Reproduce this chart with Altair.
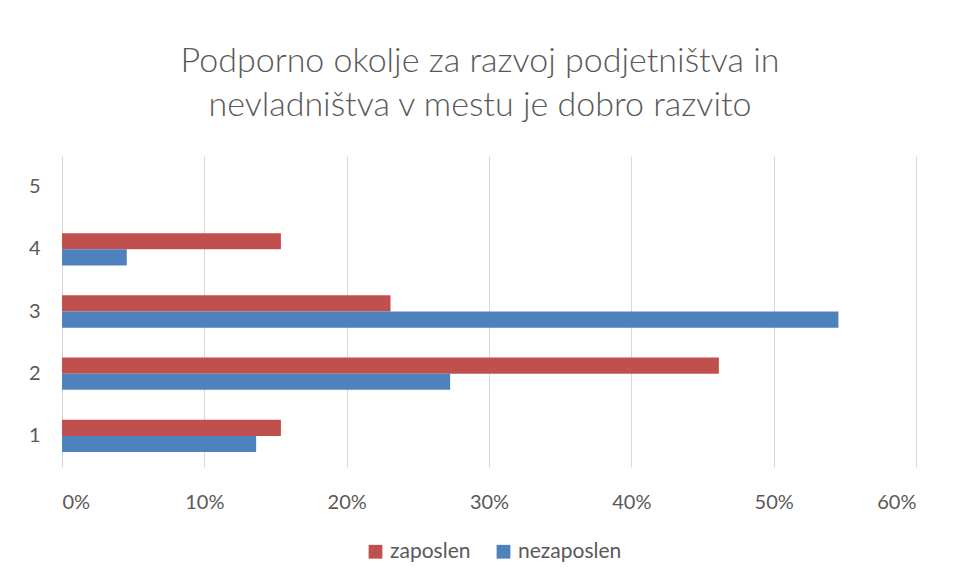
import altair as alt
import pandas as pd

categories = ["1", "2", "3", "4", "5"]
series = ["zaposlen", "nezaposlen"]
zaposlen = [0.1538, 0.4615, 0.2308, 0.1538, None]
nezaposlen = [0.1364, 0.2727, 0.5455, 0.0455, None]
colors = ["#C0504D", "#4F81BD"]

rows = []
for c, z, n in zip(categories, zaposlen, nezaposlen):
    if z is not None:
        rows.append({"kat": c, "serija": "zaposlen", "vrednost": z})
    if n is not None:
        rows.append({"kat": c, "serija": "nezaposlen", "vrednost": n})
df = pd.DataFrame(rows)

FONT = "Lato"
GREY = "#595959"

chart = alt.Chart(df).mark_bar().encode(
    x=alt.X("vrednost:Q",
            scale=alt.Scale(domain=[0, 0.6], nice=False),
            axis=alt.Axis(format="%", values=[0, 0.1, 0.2, 0.3, 0.4, 0.5, 0.6],
                          title=None, domain=False, ticks=False,
                          labelPadding=25, labelFontSize=20, labelColor=GREY,
                          labelFont=FONT, gridColor="#D9D9D9", gridWidth=1)),
    y=alt.Y("kat:N",
            scale=alt.Scale(domain=categories[::-1], paddingInner=0.48, paddingOuter=0.24),
            axis=alt.Axis(title=None, domain=False, ticks=False, grid=False,
                          labelPadding=22, labelFontSize=20, labelColor=GREY,
                          labelFont=FONT)),
    yOffset=alt.YOffset("serija:N", sort=series,
                        scale=alt.Scale(domain=series, paddingInner=0, paddingOuter=0)),
    color=alt.Color("serija:N",
                    scale=alt.Scale(domain=series, range=colors),
                    legend=alt.Legend(title=None, orient="none", direction="horizontal",
                                      legendX=303, legendY=385,
                                      symbolType="square", symbolSize=190,
                                      symbolStrokeWidth=0,
                                      labelFontSize=21, labelColor=GREY, labelFont=FONT,
                                      columnPadding=22, labelOffset=4)),
).properties(
    width=854,
    height=311,
    title=alt.TitleParams(
        text=["Podporno okolje za razvoj podjetništva in",
              "nevladništva v mestu je dobro razvito"],
        font=FONT, fontSize=34, fontWeight=300, color=GREY,
        lineHeight=44, anchor="middle", dx=-9, offset=33,
    ),
    autosize=alt.AutoSizeParams(type="none"),
    padding={"left": 54, "top": 148, "right": 35, "bottom": 110},
).configure(background="white", view=alt.ViewConfig(strokeWidth=0))

chart.save("out.html", embed_options={"renderer": "svg", "actions": False})
